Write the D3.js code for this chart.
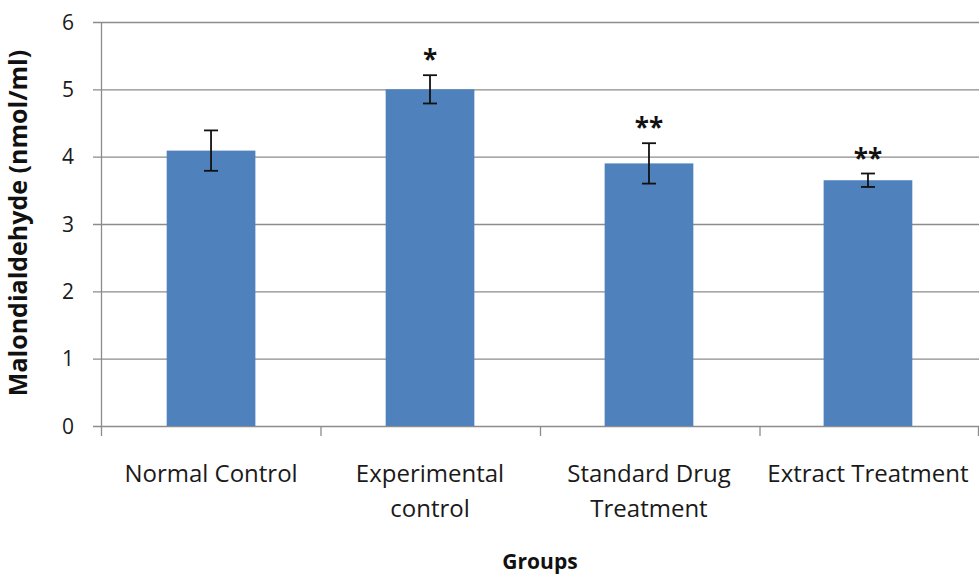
<!DOCTYPE html>
<html>
<head>
<meta charset="utf-8">
<script src="https://cdn.jsdelivr.net/npm/d3@7"></script>
<style>
  body { margin: 0; background: #fff; }
  text { font-family: "Open Sans", sans-serif; }
</style>
</head>
<body>
<div id="chart"></div>
<script>
var groups = [["Normal Control"], ["Experimental", "control"], ["Standard Drug", "Treatment"], ["Extract Treatment"]];
var groupKeys = ["Normal Control", "Experimental control", "Standard Drug Treatment", "Extract Treatment"];
var mda = [4.09, 5.0, 3.9, 3.65];
var errs = [0.3, 0.21, 0.3, 0.1];
var marks = ["", "*", "**", "**"];
var yTicks = [0, 1, 2, 3, 4, 5, 6];

var margin = {top: 22, right: 0, bottom: 150, left: 101},
    width = 979 - margin.left - margin.right,
    height = 576 - margin.top - margin.bottom;

var svg = d3.select("#chart")
    .append("svg")
    .attr("width", 979)
    .attr("height", 576)
    .append("g")
    .attr("transform", "translate(" + margin.left + "," + margin.top + ")");

var x = d3.scaleBand()
    .domain(groupKeys)
    .range([0, width - 1])
    .paddingInner(0.595)
    .paddingOuter(0.3);

var y = d3.scaleLinear()
    .domain([0, 6])
    .range([height, 0]);

// gridlines
svg.append("g")
    .selectAll("line")
    .data(yTicks)
    .enter()
    .append("line")
    .attr("x1", -8)
    .attr("x2", width)
    .attr("y1", d => y(d) + 0.5)
    .attr("y2", d => y(d) + 0.5)
    .attr("stroke", "#8c8c8c")
    .attr("stroke-width", 1.3);

// y axis line
svg.append("line")
    .attr("x1", 0.5).attr("x2", 0.5)
    .attr("y1", 0).attr("y2", height)
    .attr("stroke", "#8c8c8c")
    .attr("stroke-width", 1.3);

// x category ticks
var step = width / groupKeys.length;
svg.append("g")
    .selectAll("line")
    .data(d3.range(groupKeys.length + 1))
    .enter()
    .append("line")
    .attr("x1", d => Math.min(d * step, width - 1) + 0.5)
    .attr("x2", d => Math.min(d * step, width - 1) + 0.5)
    .attr("y1", height)
    .attr("y2", height + 10)
    .attr("stroke", "#8c8c8c")
    .attr("stroke-width", 1.3);

// y tick labels
svg.append("g")
    .selectAll("text")
    .data(yTicks)
    .enter()
    .append("text")
    .attr("x", -27)
    .attr("y", d => y(d))
    .attr("dy", "0.36em")
    .attr("text-anchor", "end")
    .attr("font-size", "21px")
    .attr("fill", "#1a1a1a")
    .text(d => d);

// bars
svg.append("g")
    .selectAll("rect")
    .data(mda)
    .enter()
    .append("rect")
    .attr("x", (d, i) => x(groupKeys[i]))
    .attr("width", x.bandwidth())
    .attr("y", d => y(d))
    .attr("height", d => height - y(d))
    .attr("fill", "#4f81bd");

// error bars
var eb = svg.append("g")
    .attr("stroke", "#111")
    .attr("stroke-width", 1.8);

mda.forEach(function(m, i) {
    var cx = x(groupKeys[i]) + x.bandwidth() / 2;
    eb.append("line")
        .attr("x1", cx).attr("x2", cx)
        .attr("y1", y(m + errs[i])).attr("y2", y(m - errs[i]));
    [m + errs[i], m - errs[i]].forEach(function(v) {
        eb.append("line")
            .attr("x1", cx - 7).attr("x2", cx + 7)
            .attr("y1", y(v)).attr("y2", y(v));
    });
    svg.append("text")
        .attr("x", cx)
        .attr("y", y(m + errs[i]) - 6)
        .attr("text-anchor", "middle")
        .attr("font-size", "26px")
        .attr("font-weight", "bold")
        .attr("fill", "#111")
        .text(marks[i]);
});

// x labels
svg.append("g")
    .selectAll("text")
    .data(groups)
    .enter()
    .append("text")
    .attr("x", (d, i) => x(groupKeys[i]) + x.bandwidth() / 2)
    .attr("y", height + 56)
    .attr("text-anchor", "middle")
    .attr("font-size", "24px")
    .attr("fill", "#1a1a1a")
    .each(function(d) {
        var t = d3.select(this);
        d.forEach(function(line, k) {
            t.append("tspan")
                .attr("x", t.attr("x"))
                .attr("dy", k === 0 ? 0 : 35)
                .text(line);
        });
    });

// axis titles
svg.append("text")
    .attr("x", width / 2)
    .attr("y", height + 143)
    .attr("text-anchor", "middle")
    .attr("font-size", "21px")
    .attr("font-weight", "bold")
    .attr("fill", "#111")
    .text("Groups");

svg.append("text")
    .attr("transform", "rotate(-90)")
    .attr("x", -height / 2 + 1)
    .attr("y", -74)
    .attr("text-anchor", "middle")
    .attr("font-size", "25px")
    .attr("font-weight", "bold")
    .attr("fill", "#111")
    .text("Malondialdehyde  (nmol/ml)");
</script>
</body>
</html>
